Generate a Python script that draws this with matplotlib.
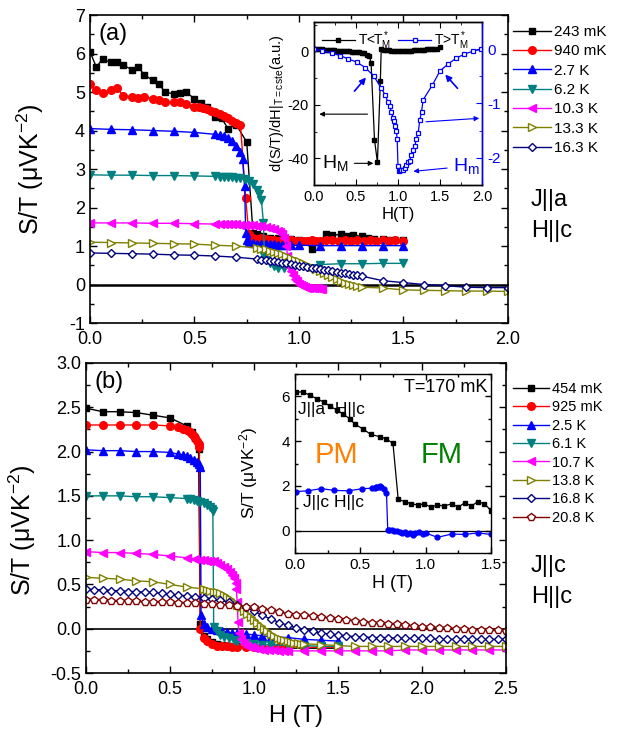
import numpy as np
import matplotlib
matplotlib.use('Agg')
import matplotlib.pyplot as plt
from matplotlib.ticker import MultipleLocator, FormatStrFormatter

plt.rcParams['font.family'] = ['Liberation Sans', 'DejaVu Sans']
plt.rcParams['mathtext.fontset'] = 'custom'
plt.rcParams['mathtext.rm'] = 'Liberation Sans'
plt.rcParams['mathtext.it'] = 'Liberation Sans'
plt.rcParams['mathtext.default'] = 'regular'
plt.rcParams['axes.unicode_minus'] = False

# ---------------- panel (a) : J||a, H||c ----------------
a_labels = ['243 mK', '940 mK', '2.7 K', '6.2 K', '10.3 K', '13.3 K', '16.3 K']

a_H_243 = [0.00, 0.03, 0.06, 0.10, 0.13, 0.16, 0.20, 0.23, 0.26, 0.30, 0.33, 0.36, 0.40, 0.43, 0.46, 0.50,
           0.53, 0.56, 0.60, 0.63, 0.66, 0.70, 0.75, 0.78, 0.80, 0.83, 0.86, 0.90, 0.93, 0.96, 1.00, 1.03,
           1.06, 1.10, 1.13, 1.16, 1.20, 1.23, 1.26, 1.30, 1.33, 1.36, 1.40, 1.43, 1.46, 1.50]
a_S_243 = [6.05, 5.65, 5.85, 5.77, 5.78, 5.70, 5.58, 5.65, 5.45, 5.30, 5.20, 5.00, 4.95, 4.97, 5.00, 4.82,
           4.72, 4.60, 4.35, 4.32, 4.05, 4.15, 3.70, 1.35, 1.30, 1.25, 1.22, 1.22, 1.20, 1.18, 1.15, 1.12,
           0.92, 1.10, 1.32, 1.28, 1.30, 1.26, 1.28, 1.25, 1.20, 1.18, 1.18, 1.15, 1.15, 1.15]

a_H_940 = [0.00, 0.03, 0.06, 0.10, 0.13, 0.16, 0.20, 0.23, 0.26, 0.30, 0.33, 0.36, 0.40, 0.43, 0.46, 0.50,
           0.52, 0.54, 0.56, 0.58, 0.60, 0.62, 0.64, 0.66, 0.68, 0.70, 0.72, 0.745, 0.76, 0.78, 0.80, 0.82,
           0.84, 0.86, 0.88, 0.90, 0.92, 0.94, 0.96, 0.98, 1.00, 1.02, 1.04, 1.06, 1.08, 1.10, 1.13, 1.16,
           1.19, 1.22, 1.25, 1.28, 1.31, 1.34, 1.37, 1.40, 1.43, 1.46, 1.50]
a_S_940 = [5.20, 5.05, 4.97, 5.05, 5.10, 4.90, 4.88, 4.85, 4.87, 4.83, 4.80, 4.75, 4.73, 4.75, 4.68, 4.60,
           4.60, 4.58, 4.55, 4.50, 4.48, 4.42, 4.38, 4.32, 4.25, 4.20, 4.15, 2.25, 1.30, 1.22, 1.18, 1.20,
           1.17, 1.15, 1.15, 1.13, 1.15, 1.12, 1.15, 1.13, 1.12, 1.14, 1.12, 1.15, 1.14, 1.12, 1.16, 1.15,
           1.14, 1.16, 1.14, 1.15, 1.13, 1.15, 1.14, 1.16, 1.14, 1.15, 1.14]

a_H_27 = [0.00, 0.10, 0.20, 0.30, 0.40, 0.50, 0.60, 0.62, 0.64, 0.66, 0.68, 0.70, 0.72, 0.73, 0.74, 0.745,
          0.75, 0.76, 0.78, 0.80, 0.82, 0.84, 0.86, 0.88, 0.90, 0.92, 0.94, 0.96, 1.00, 1.10, 1.20, 1.30,
          1.40, 1.50]
a_S_27 = [4.05, 4.03, 4.02, 4.00, 3.98, 3.95, 3.90, 3.88, 3.85, 3.80, 3.72, 3.60, 3.45, 3.25, 2.55, 1.35,
          1.15, 1.10, 1.08, 1.06, 1.05, 1.05, 1.04, 1.04, 1.03, 1.03, 1.02, 1.02, 1.02, 1.01, 1.01, 1.01,
          1.01, 1.01]

a_H_62 = [0.00, 0.10, 0.20, 0.30, 0.40, 0.50, 0.60, 0.62, 0.64, 0.66, 0.68, 0.70, 0.72, 0.74, 0.76, 0.78,
          0.80, 0.81, 0.82, 0.83, 0.835, 0.84, 0.86, 0.88, 0.90, 0.93, 0.96, 1.00, 1.10, 1.20, 1.30, 1.40,
          1.50]
a_S_62 = [2.85, 2.84, 2.84, 2.83, 2.83, 2.82, 2.81, 2.80, 2.80, 2.79, 2.78, 2.77, 2.76, 2.73, 2.70, 2.62,
          2.45, 2.35, 2.20, 1.60, 0.75, 0.65, 0.55, 0.48, 0.44, 0.42, 0.45, 0.50, 0.52, 0.54, 0.54, 0.55,
          0.55]

a_H_103 = [0.00, 0.10, 0.20, 0.30, 0.40, 0.50, 0.60, 0.62, 0.64, 0.66, 0.68, 0.70, 0.72, 0.74, 0.76, 0.78,
           0.80, 0.82, 0.84, 0.86, 0.88, 0.90, 0.91, 0.92, 0.93, 0.94, 0.945, 0.95, 0.96, 0.97, 0.98, 0.99,
           1.00, 1.01, 1.02, 1.03, 1.04, 1.05, 1.06, 1.07, 1.08, 1.09, 1.10, 1.11]
a_S_103 = [1.60, 1.60, 1.60, 1.59, 1.59, 1.58, 1.57, 1.57, 1.57, 1.56, 1.56, 1.56, 1.55, 1.55, 1.55, 1.54,
           1.53, 1.52, 1.50, 1.48, 1.45, 1.40, 1.36, 1.30, 1.20, 1.00, 0.75, 0.45, 0.35, 0.25, 0.15, 0.08,
           0.02, -0.02, -0.05, -0.07, -0.08, -0.09, -0.10, -0.10, -0.10, -0.10, -0.11, -0.11]

a_H_133 = [0.00, 0.10, 0.20, 0.30, 0.40, 0.50, 0.60, 0.70, 0.80, 0.82, 0.84, 0.86, 0.88, 0.90, 0.92, 0.94,
           0.96, 0.98, 1.00, 1.02, 1.04, 1.06, 1.08, 1.10, 1.12, 1.14, 1.16, 1.18, 1.20, 1.22, 1.24, 1.26,
           1.28, 1.30, 1.40, 1.50, 1.60, 1.70, 1.80, 1.90, 2.00]
a_S_133 = [1.10, 1.09, 1.08, 1.07, 1.06, 1.05, 1.02, 1.00, 0.95, 0.93, 0.91, 0.88, 0.85, 0.82, 0.78, 0.74,
           0.70, 0.65, 0.60, 0.55, 0.50, 0.45, 0.40, 0.35, 0.30, 0.25, 0.20, 0.15, 0.10, 0.05, 0.02, -0.02,
           -0.05, -0.07, -0.09, -0.14, -0.15, -0.16, -0.17, -0.17, -0.18]

a_H_163 = [0.00, 0.10, 0.20, 0.30, 0.40, 0.50, 0.60, 0.70, 0.80, 0.82, 0.84, 0.86, 0.88, 0.90, 0.92, 0.94,
           0.96, 0.98, 1.00, 1.02, 1.04, 1.06, 1.08, 1.10, 1.12, 1.14, 1.16, 1.18, 1.20, 1.22, 1.24, 1.26,
           1.28, 1.30, 1.40, 1.50, 1.60, 1.70, 1.80, 1.90, 2.00]
a_S_163 = [0.82, 0.81, 0.80, 0.79, 0.77, 0.76, 0.74, 0.71, 0.66, 0.65, 0.63, 0.62, 0.60, 0.58, 0.57, 0.55,
           0.53, 0.51, 0.49, 0.48, 0.46, 0.44, 0.42, 0.40, 0.39, 0.37, 0.35, 0.33, 0.31, 0.30, 0.28, 0.26,
           0.24, 0.22, 0.10, 0.05, 0.00, -0.03, -0.07, -0.08, -0.08]

# inset (a): derivative, left axis (T<T*M) and right axis (T>T*M)
ia_H_lo = [0.00, 0.03, 0.06, 0.09, 0.12, 0.15, 0.18, 0.21, 0.24, 0.27, 0.30, 0.33, 0.36, 0.39, 0.42, 0.45,
           0.48, 0.51, 0.54, 0.57, 0.60, 0.63, 0.66, 0.68, 0.72, 0.755, 0.79, 0.80, 0.83, 0.86, 0.89, 0.92,
           0.95, 0.98, 1.01, 1.04, 1.07, 1.10, 1.13, 1.16, 1.19, 1.22, 1.25, 1.28, 1.31, 1.34, 1.37, 1.40,
           1.43, 1.46, 1.50]
ia_D_lo = [1.0, 0.9, 0.8, 0.7, 0.6, 0.6, 0.5, 0.4, 0.4, 0.3, 0.2, 0.2, 0.1, 0.1, 0.0, -0.1,
           -0.1, -0.2, -0.4, -0.5, -0.8, -1.2, -1.6, -4.5, -33.0, -41.5, -11.0, 0.8, 0.6, 0.5, 0.4, 0.3,
           0.3, 0.2, 0.2, 0.1, 0.2, 0.2, 0.3, 0.3, 0.4, 0.4, 0.5, 0.5, 0.6, 0.7, 0.7, 0.8,
           0.9, 1.0, 1.5]
ia_H_hi = [0.00, 0.10, 0.21, 0.31, 0.41, 0.51, 0.61, 0.71, 0.80, 0.85, 0.88, 0.90, 0.92, 0.94, 0.95, 0.97,
           0.98, 0.99, 1.00, 1.01, 1.02, 1.04, 1.06, 1.08, 1.10, 1.12, 1.14, 1.16, 1.18, 1.20, 1.22, 1.24,
           1.26, 1.28, 1.30, 1.41, 1.50, 1.60, 1.69, 1.79, 1.89, 1.99]
ia_D_hi = [0.00, -0.03, -0.07, -0.12, -0.18, -0.24, -0.34, -0.49, -0.72, -0.85, -0.98, -1.05, -1.15, -1.26,
           -1.32, -1.41, -1.50, -1.65, -2.15, -2.25, -2.23, -2.22, -2.22, -2.18, -2.13, -2.08, -2.05, -1.95,
           -1.85, -1.78, -1.65, -1.54, -1.30, -1.15, -0.93, -0.66, -0.40, -0.27, -0.17, -0.09, -0.04, 0.00]

# ---------------- panel (b) : J||c, H||c ----------------
b_labels = ['454 mK', '925 mK', '2.5 K', '6.1 K', '10.7 K', '13.8 K', '16.8 K', '20.8 K']

b_H_454 = [0.00, 0.10, 0.20, 0.30, 0.40, 0.50, 0.60, 0.63, 0.65, 0.67, 0.68, 0.70, 0.72, 0.75, 0.78, 0.81,
           0.84, 0.87, 0.90, 0.95, 1.00, 1.05, 1.10, 1.15, 1.20, 1.30, 1.40, 1.50]
b_S_454 = [2.49, 2.45, 2.45, 2.44, 2.41, 2.38, 2.29, 2.22, 2.15, 2.03, 0.05, -0.08, -0.12, -0.15, -0.17,
           -0.18, -0.19, -0.19, -0.20, -0.20, -0.21, -0.21, -0.21, -0.21, -0.22, -0.22, -0.22, -0.22]

b_H_925 = [0.00, 0.10, 0.20, 0.30, 0.40, 0.50, 0.55, 0.58, 0.60, 0.62, 0.63, 0.64, 0.65, 0.66, 0.67, 0.675,
           0.68, 0.70, 0.72, 0.75, 0.78, 0.81, 0.84, 0.87, 0.90, 0.95, 1.00, 1.05, 1.10, 1.15, 1.20, 1.30,
           1.40, 1.50]
b_S_925 = [2.30, 2.30, 2.30, 2.30, 2.30, 2.29, 2.28, 2.26, 2.24, 2.22, 2.20, 2.18, 2.15, 2.12, 2.08, 2.05,
           0.00, -0.10, -0.14, -0.17, -0.19, -0.20, -0.20, -0.21, -0.21, -0.21, -0.21, -0.21, -0.21, -0.21,
           -0.21, -0.21, -0.21, -0.21]

b_H_25 = [0.00, 0.10, 0.20, 0.30, 0.40, 0.50, 0.55, 0.58, 0.60, 0.62, 0.64, 0.66, 0.67, 0.68, 0.685, 0.70,
          0.72, 0.75, 0.78, 0.81, 0.84, 0.87, 0.90, 0.95, 1.00, 1.05, 1.10, 1.20, 1.30, 1.40, 1.50]
b_S_25 = [2.02, 2.01, 2.01, 2.00, 2.00, 1.99, 1.97, 1.96, 1.95, 1.93, 1.91, 1.88, 1.86, 1.83, 0.15, 0.05,
          0.02, 0.00, -0.02, -0.03, -0.04, -0.05, -0.05, -0.06, -0.07, -0.08, -0.09, -0.10, -0.12, -0.13,
          -0.14]

b_H_61 = [0.00, 0.10, 0.20, 0.30, 0.40, 0.50, 0.60, 0.62, 0.64, 0.66, 0.68, 0.70, 0.72, 0.74, 0.75, 0.755,
          0.76, 0.78, 0.80, 0.82, 0.85, 0.88, 0.90, 0.95, 1.00, 1.05, 1.10, 1.20, 1.30, 1.40, 1.50]
b_S_61 = [1.50, 1.50, 1.50, 1.49, 1.49, 1.48, 1.47, 1.46, 1.45, 1.44, 1.43, 1.42, 1.40, 1.37, 1.35, 1.33,
          0.02, -0.03, -0.07, -0.09, -0.11, -0.13, -0.14, -0.16, -0.17, -0.18, -0.18, -0.19, -0.19, -0.20,
          -0.20]

b_H_107 = [0.00, 0.10, 0.20, 0.30, 0.40, 0.50, 0.60, 0.65, 0.68, 0.70, 0.72, 0.74, 0.76, 0.78, 0.80, 0.82,
           0.84, 0.86, 0.87, 0.88, 0.89, 0.895, 0.90, 0.905, 0.91, 0.92, 0.94, 0.96, 0.98, 1.00, 1.03, 1.06,
           1.09, 1.12, 1.15, 1.18, 1.20, 1.30, 1.40, 1.50, 1.60, 1.70, 1.80, 1.90, 2.00, 2.10, 2.20, 2.30,
           2.40, 2.50]
b_S_107 = [0.87, 0.86, 0.86, 0.85, 0.84, 0.82, 0.80, 0.79, 0.78, 0.78, 0.77, 0.77, 0.76, 0.74, 0.72, 0.70,
           0.67, 0.64, 0.61, 0.57, 0.52, 0.45, 0.30, 0.08, -0.05, -0.12, -0.16, -0.19, -0.21, -0.22, -0.23,
           -0.24, -0.24, -0.24, -0.25, -0.25, -0.25, -0.25, -0.25, -0.25, -0.25, -0.25, -0.25, -0.24, -0.24,
           -0.24, -0.24, -0.24, -0.24, -0.24]

b_H_138 = [0.00, 0.10, 0.20, 0.30, 0.40, 0.50, 0.60, 0.70, 0.72, 0.74, 0.76, 0.78, 0.80, 0.82, 0.84, 0.86,
           0.88, 0.90, 0.92, 0.94, 0.96, 0.98, 1.00, 1.02, 1.04, 1.06, 1.08, 1.10, 1.12, 1.14, 1.16, 1.18,
           1.20, 1.22, 1.24, 1.26, 1.28, 1.30, 1.40, 1.50, 1.60, 1.70, 1.80, 1.90, 2.00, 2.10, 2.20, 2.30,
           2.40, 2.50]
b_S_138 = [0.58, 0.57, 0.56, 0.54, 0.53, 0.50, 0.47, 0.45, 0.44, 0.43, 0.42, 0.41, 0.40, 0.38, 0.36, 0.33,
           0.30, 0.27, 0.24, 0.20, 0.17, 0.13, 0.10, 0.06, 0.03, 0.00, -0.03, -0.06, -0.08, -0.10, -0.12,
           -0.13, -0.14, -0.15, -0.16, -0.16, -0.17, -0.17, -0.18, -0.19, -0.20, -0.20, -0.20, -0.20, -0.20,
           -0.20, -0.20, -0.20, -0.20, -0.20]

b_H_168 = [0.00, 0.05, 0.10, 0.15, 0.20, 0.25, 0.30, 0.35, 0.40, 0.45, 0.50, 0.55, 0.60, 0.65, 0.70, 0.75,
           0.80, 0.85, 0.90, 0.95, 1.00, 1.05, 1.10, 1.15, 1.20, 1.25, 1.30, 1.35, 1.40, 1.45, 1.50, 1.55,
           1.60, 1.65, 1.70, 1.75, 1.80, 1.85, 1.90, 1.95, 2.00, 2.05, 2.10, 2.15, 2.20, 2.25, 2.30, 2.35,
           2.40, 2.45, 2.50]
b_S_168 = [0.45, 0.44, 0.44, 0.43, 0.43, 0.42, 0.42, 0.41, 0.41, 0.40, 0.39, 0.38, 0.37, 0.36, 0.35, 0.34,
           0.32, 0.30, 0.27, 0.24, 0.20, 0.15, 0.11, 0.07, 0.04, 0.01, -0.01, -0.03, -0.05, -0.06, -0.07,
           -0.08, -0.09, -0.09, -0.10, -0.10, -0.10, -0.11, -0.11, -0.11, -0.11, -0.11, -0.12, -0.12, -0.12,
           -0.12, -0.12, -0.12, -0.12, -0.12, -0.12]

b_H_208 = b_H_168
b_S_208 = [0.32, 0.32, 0.32, 0.31, 0.31, 0.31, 0.31, 0.30, 0.30, 0.30, 0.30, 0.29, 0.29, 0.29, 0.28, 0.28,
           0.27, 0.27, 0.26, 0.25, 0.24, 0.22, 0.21, 0.19, 0.17, 0.16, 0.15, 0.14, 0.13, 0.12, 0.11, 0.10,
           0.09, 0.08, 0.07, 0.06, 0.05, 0.05, 0.04, 0.03, 0.02, 0.02, 0.01, 0.01, 0.00, 0.00, -0.01, -0.01,
           -0.02, -0.02, -0.03]

# inset (b): T = 170 mK
ib_H_a = [0.01, 0.06, 0.115, 0.165, 0.22, 0.27, 0.32, 0.37, 0.42, 0.46, 0.52, 0.58, 0.65, 0.70, 0.75, 0.79,
          0.84, 0.89, 0.94, 0.99, 1.04, 1.09, 1.14, 1.20, 1.25, 1.30, 1.35, 1.40, 1.45, 1.50]
ib_S_a = [6.20, 6.20, 6.05, 5.90, 5.75, 5.55, 5.40, 5.20, 5.00, 4.75, 4.55, 4.30, 4.20, 4.10, 3.90, 1.40,
          1.30, 1.20, 1.15, 1.20, 1.05, 1.15, 1.10, 1.20, 1.05, 1.25, 1.10, 1.30, 1.20, 0.90]
ib_H_c = [0.01, 0.10, 0.20, 0.30, 0.41, 0.51, 0.59, 0.61, 0.62, 0.63, 0.64, 0.65, 0.66, 0.68, 0.70, 0.71,
          0.72, 0.74, 0.76, 0.78, 0.80, 0.82, 0.84, 0.86, 0.88, 0.90, 0.92, 0.95, 0.98, 1.00, 1.09, 1.20,
          1.30, 1.40, 1.50]
ib_S_c = [1.75, 1.78, 1.88, 1.80, 1.78, 1.87, 1.90, 1.92, 1.95, 1.97, 1.95, 1.98, 1.93, 1.85, 1.70, 0.05,
          0.02, 0.05, -0.02, 0.00, -0.05, -0.10, -0.05, -0.15, -0.10, -0.20, -0.10, -0.05, -0.15, -0.10,
          -0.30, -0.15, -0.17, -0.10, -0.17]

# ---------------- figure ----------------
fig = plt.figure(figsize=(6.21, 7.32), dpi=100)

def style_axes(ax, xmaj, xmin, ymaj, ymin, size):
    ax.xaxis.set_major_locator(MultipleLocator(xmaj))
    ax.xaxis.set_minor_locator(MultipleLocator(xmin))
    ax.yaxis.set_major_locator(MultipleLocator(ymaj))
    ax.yaxis.set_minor_locator(MultipleLocator(ymin))
    ax.tick_params(which='both', direction='in', top=True, right=True, labelsize=size, width=1.0)
    ax.tick_params(which='major', length=5)
    ax.tick_params(which='minor', length=3)
    for sp in ax.spines.values():
        sp.set_linewidth(1.2)

colors = ['#000000', '#FF0000', '#0000FF', '#008080', '#FF00FF', '#808000', '#000080', '#800000']
markers = ['s', 'o', '^', 'v', '<', '>', 'D', 'p']
filled = [True, True, True, True, True, False, False, False]
msizes = [5.0, 5.5, 6.0, 6.0, 6.0, 6.0, 4.3, 6.0]

# ---- panel (a)
axa = fig.add_axes([0.1449, 0.5587, 0.6731, 0.4208])
a_H = [a_H_243, a_H_940, a_H_27, a_H_62, a_H_103, a_H_133, a_H_163]
a_S = [a_S_243, a_S_940, a_S_27, a_S_62, a_S_103, a_S_133, a_S_163]
axa.axhline(0, color='k', lw=1.8, zorder=1)
for i in range(7):
    axa.plot(a_H[i], a_S[i], marker=markers[i], color=colors[i], ms=msizes[i], lw=1.0,
             mfc=colors[i] if filled[i] else 'white', mew=1.0, label=a_labels[i])
axa.set_xlim(0, 2.0)
axa.set_ylim(-1, 7)
style_axes(axa, 0.5, 0.25, 1, 0.5, 13)
axa.tick_params(axis='x', pad=6)
axa.xaxis.set_major_formatter(FormatStrFormatter('%.1f'))
axa.set_ylabel(r'S/T ($\mu$VK$^{-2}$)', fontsize=18)
axa.yaxis.set_label_coords(-0.105, 0.5)
axa.text(0.02, 0.975, '(a)', transform=axa.transAxes, fontsize=17, va='top', ha='left')
axa.legend(loc='upper left', bbox_to_anchor=(0.826, 0.966), bbox_transform=fig.transFigure,
           frameon=False, fontsize=11, handlelength=2.5, handletextpad=0.2, labelspacing=0.35,
           borderaxespad=0, borderpad=0)
fig.text(0.855, 0.706, 'J||a\nH||c', fontsize=17, va='center', ha='left', linespacing=1.55)

# ---- inset (a)
iax = fig.add_axes([0.5056, 0.7473, 0.2706, 0.2227])
iax.plot(ia_H_lo, ia_D_lo, marker='s', color='k', ms=3.5, lw=0.9, label=r'T<T$_M^*$')
iax.set_xlim(0, 2.0)
iax.set_ylim(-50, 11)
iax.xaxis.set_major_locator(MultipleLocator(0.5))
iax.xaxis.set_minor_locator(MultipleLocator(0.25))
iax.yaxis.set_major_locator(MultipleLocator(20))
iax.yaxis.set_minor_locator(MultipleLocator(10))
iax.tick_params(which='both', direction='in', top=True, right=False, labelsize=10.5)
iax.tick_params(which='major', length=4)
iax.tick_params(which='minor', length=2)
iax.xaxis.set_major_formatter(FormatStrFormatter('%.1f'))
iax.set_xlabel('H(T)', fontsize=12, labelpad=2)
iax.set_ylabel(r'd(S/T)/dH|$_{T=cste}$(a.u.)', fontsize=10.5, labelpad=1)
iax2 = iax.twinx()
iax2.plot(ia_H_hi, ia_D_hi, marker='s', color='#0000FF', ms=3.5, lw=0.9, mfc='white', mew=0.9,
          label=r'T>T$_M^*$')
iax2.set_ylim(-2.5, 0.5)
iax2.yaxis.set_major_locator(MultipleLocator(1))
iax2.yaxis.set_minor_locator(MultipleLocator(0.5))
iax2.tick_params(which='both', direction='in', colors='#0000FF', labelsize=11)
iax2.tick_params(which='major', length=4)
iax2.tick_params(which='minor', length=2)
for sp in list(iax.spines.values()) + list(iax2.spines.values()):
    sp.set_linewidth(1.0)
iax2.spines['right'].set_color('#0000FF')
h1, l1 = iax.get_legend_handles_labels()
h2, l2 = iax2.get_legend_handles_labels()
iax.legend(h1 + h2, l1 + l2, loc='upper left', ncol=2, frameon=False, fontsize=10,
           handlelength=2.4, handletextpad=0.2, columnspacing=0.5, borderaxespad=0.15,
           bbox_to_anchor=(0.0, 1.0))
# arrows and labels inside inset (a)
arr_k = dict(arrowstyle='-|>', color='k', lw=0.8, mutation_scale=7)
arr_b = dict(arrowstyle='-|>', color='#0000FF', lw=1.2, mutation_scale=9)
iax.annotate('', xy=(0.03, -23.5), xytext=(0.67, -23.5), arrowprops=arr_k)
iax2.annotate('', xy=(2.0, -1.27), xytext=(1.30, -1.34),
              arrowprops=dict(arrowstyle='-|>', color='#0000FF', lw=0.8, mutation_scale=7))
iax.annotate('', xy=(0.64, -9.0), xytext=(0.46, -15.7), arrowprops=arr_b)
iax.annotate('', xy=(1.54, -7.9), xytext=(1.73, -14.6), arrowprops=arr_b)
iax.annotate(r'H$_M$', xy=(0.74, -41.9), xytext=(0.10, -41.9), fontsize=14, va='center',
             arrowprops=arr_k)
iax.annotate(r'H$_m$', xy=(1.15, -45.0), xytext=(1.65, -43.0), fontsize=14, va='center',
             color='#0000FF', arrowprops=dict(arrowstyle='-|>', color='#0000FF', lw=0.8, mutation_scale=7))

# ---- panel (b)
axb = fig.add_axes([0.1385, 0.0806, 0.6763, 0.4235])
b_H = [b_H_454, b_H_925, b_H_25, b_H_61, b_H_107, b_H_138, b_H_168, b_H_208]
b_S = [b_S_454, b_S_925, b_S_25, b_S_61, b_S_107, b_S_138, b_S_168, b_S_208]
axb.axhline(0, color='k', lw=1.2, zorder=1)
for i in range(8):
    axb.plot(b_H[i], b_S[i], marker=markers[i], color=colors[i], ms=msizes[i], lw=1.0,
             mfc=colors[i] if filled[i] else 'white', mew=1.0, label=b_labels[i])
axb.set_xlim(0, 2.5)
axb.set_ylim(-0.5, 3.0)
style_axes(axb, 0.5, 0.25, 0.5, 0.25, 13)
axb.tick_params(axis='x', pad=6)
axb.xaxis.set_major_formatter(FormatStrFormatter('%.1f'))
axb.yaxis.set_major_formatter(FormatStrFormatter('%.1f'))
axb.set_xlabel('H (T)', fontsize=17, labelpad=5)
axb.set_ylabel(r'S/T ($\mu$VK$^{-2}$)', fontsize=18)
axb.yaxis.set_label_coords(-0.114, 0.46)
axb.text(0.02, 0.975, '(b)', transform=axb.transAxes, fontsize=17, va='top', ha='left')
axb.legend(loc='upper left', bbox_to_anchor=(0.826, 0.478), bbox_transform=fig.transFigure,
           frameon=False, fontsize=10.5, handlelength=2.5, handletextpad=0.15, labelspacing=0.3,
           borderaxespad=0, borderpad=0)
fig.text(0.855, 0.206, 'J||c\nH||c', fontsize=17, va='center', ha='left', linespacing=1.55)

# ---- inset (b)
ibx = fig.add_axes([0.475, 0.2445, 0.3156, 0.2445])
ibx.axhline(0, color='k', lw=0.9, zorder=1)
ibx.plot(ib_H_a, ib_S_a, marker='s', color='k', ms=3, lw=0.9)
ibx.plot(ib_H_c, ib_S_c, marker='o', color='#0000FF', ms=3.5, lw=0.9)
ibx.set_xlim(0, 1.5)
ibx.set_ylim(-1, 7)
style_axes(ibx, 0.5, 0.25, 2, 1, 11)
for sp in ibx.spines.values():
    sp.set_linewidth(1.0)
ibx.tick_params(which='major', length=4)
ibx.tick_params(which='minor', length=2)
ibx.xaxis.set_major_formatter(FormatStrFormatter('%.1f'))
ibx.set_xlabel('H (T)', fontsize=13, labelpad=2)
ibx.set_ylabel(r'S/T ($\mu$VK$^{-2}$)', fontsize=12.5)
ibx.yaxis.set_label_coords(-0.18, 0.45)
ibx.text(0.98, 0.97, 'T=170 mK', transform=ibx.transAxes, fontsize=13, ha='right', va='top')
ibx.text(0.02, 5.4, 'J||a  H||c', fontsize=12.5, ha='left', va='center')
ibx.text(0.06, 1.25, 'J||c H||c', fontsize=12.5, ha='left', va='center')
ibx.text(0.15, 3.4, 'PM', fontsize=21, color='#FF8000', ha='left', va='center')
ibx.text(0.96, 3.4, 'FM', fontsize=21, color='#008000', ha='left', va='center')

fig.savefig('out.png', dpi=100)
